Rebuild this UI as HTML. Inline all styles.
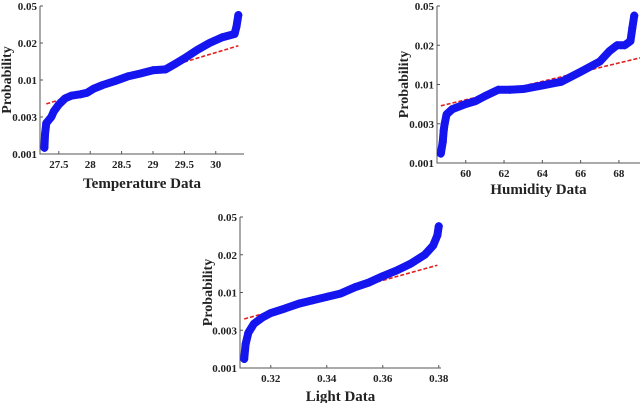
<!DOCTYPE html>
<html><head><meta charset="utf-8"><style>
html,body{margin:0;padding:0;background:#fff;}
svg{display:block;font-family:"Liberation Serif",serif;font-weight:bold;}
</style></head><body>
<svg id="fig" width="640" height="403"></svg>
<script>
const yTicks=[0.001,0.003,0.01,0.02,0.05];
const yTickLabels=["0.001","0.003","0.01","0.02","0.05"];
const tempX=[27.27,27.28,27.3,27.38,27.42,27.5,27.6,27.7,27.85,27.95,28.05,28.2,28.4,28.6,28.8,29.0,29.2,29.35,29.5,29.7,29.9,30.1,30.3,30.33,30.36];
const tempP=[0.0012,0.0018,0.0025,0.003,0.0036,0.0045,0.0055,0.006,0.0063,0.0066,0.0075,0.0085,0.0097,0.0107,0.0113,0.012,0.0122,0.0135,0.015,0.0175,0.02,0.023,0.025,0.03,0.04];
const tempFitX=[27.3,30.36];const tempFitP=[0.0046,0.019];
const tempTicks=[27.5,28,28.5,29,29.5,30];
const humX=[58.7,58.8,58.85,58.9,59.0,59.3,60,60.5,61,61.7,62.3,63,64,65,66,67,67.5,67.9,68.3,68.6,68.7,68.8];
const humP=[0.0013,0.0018,0.0025,0.003,0.004,0.0047,0.0055,0.006,0.007,0.0085,0.0085,0.0087,0.0097,0.0105,0.0125,0.015,0.018,0.02,0.02,0.022,0.03,0.04];
const humFitX=[58.7,69.1];const humFitP=[0.0052,0.016];
const humTicks=[60,62,64,66,68];
const lightX=[0.3105,0.311,0.312,0.314,0.317,0.32,0.325,0.33,0.335,0.34,0.345,0.35,0.355,0.36,0.365,0.37,0.375,0.378,0.3795,0.38];
const lightP=[0.0013,0.002,0.0028,0.0037,0.0045,0.0052,0.006,0.007,0.0078,0.0087,0.0097,0.011,0.012,0.0135,0.015,0.017,0.02,0.025,0.032,0.04];
const lightFitX=[0.3105,0.3795];const lightFitP=[0.0043,0.0165];
const lightTicks=[0.32,0.34,0.36,0.38];

const NS="http://www.w3.org/2000/svg";
const fig=document.getElementById('fig');
function mk(tag,attrs,parent){const e=document.createElementNS(NS,tag);for(const k in attrs)e.setAttribute(k,attrs[k]);parent.appendChild(e);return e;}

function plot(cfg){
  const g=mk('g',{},fig);
  
  
  const {L,R,T,B,x0,x1}=cfg;
  const sx=v=>L+(v-x0)/(x1-x0)*(R-L);
  const sy=p=>{let i=0;while(i<yTicks.length-2&&p>yTicks[i+1])i++;
    const f=Math.log(p/yTicks[i])/Math.log(yTicks[i+1]/yTicks[i]);
    return B-(i+f)*(B-T)/(yTicks.length-1);};
  const ax=mk('path',{d:`M${L},${T} L${L},${B} L${R},${B}`,stroke:'#555',fill:'none','stroke-width':1},g);
  
  yTicks.forEach((t,i)=>{const y=sy(t);
    mk('line',{x1:L,x2:L+3,y1:y,y2:y,stroke:'#555'},g);
    const tx=mk('text',{x:L-3,y:y+4,'text-anchor':'end','font-size':11,fill:'#222'},g);tx.textContent=yTickLabels[i];
    });
  cfg.ticks.forEach(t=>{const x=sx(t);
    mk('line',{x1:x,x2:x,y1:B,y2:B-3,stroke:'#555'},g);
    const tx=mk('text',{x:x,y:B+14,'text-anchor':'middle','font-size':11,fill:'#222'},g);tx.textContent=String(t);
    });
  const fl=mk('line',{x1:sx(cfg.fx[0]),y1:sy(cfg.fp[0]),x2:sx(cfg.fx[1]),y2:sy(cfg.fp[1]),stroke:'#e02020','stroke-width':1.6,'stroke-dasharray':'4,2'},g);
  
  const d=cfg.xs.map((v,i)=>(i?'L':'M')+sx(v)+','+sy(cfg.ps[i])).join(' ');
  const pl=mk('path',{d:d,stroke:'#1515f0','stroke-width':8,fill:'none','stroke-linejoin':'round','stroke-linecap':'round'},g);
  
  cfg.xs.forEach((v,i)=>{const x=sx(v),y=sy(cfg.ps[i]);
    const m=mk('path',{d:`M${x-4},${y} H${x+4} M${x},${y-4} V${y+4}`,stroke:'#1515f0','stroke-width':1.6},g);
    });
  const xl=mk('text',{x:(L+R)/2,y:cfg.xly,'text-anchor':'middle','font-size':15,fill:'#222'},g);xl.textContent=cfg.xlabel;
  
  const yl=mk('text',{x:0,y:0,'text-anchor':'middle','font-size':14,fill:'#222',transform:`translate(${cfg.ylx},${(T+B)/2}) rotate(-90)`},g);yl.textContent='Probability';
  
}
plot({name:'temperature-plot',L:40,R:244,T:6,B:154,x0:27.2,x1:30.45,ticks:tempTicks,xs:tempX,ps:tempP,fx:tempFitX,fp:tempFitP,xlabel:'Temperature Data',xly:188,ylx:11});
plot({name:'humidity-plot',L:437,R:640,T:6,B:163,x0:58.5,x1:69.1,ticks:humTicks,xs:humX,ps:humP,fx:humFitX,fp:humFitP,xlabel:'Humidity Data',xly:194,ylx:408});
plot({name:'light-plot',L:240,R:441,T:217,B:368,x0:0.309,x1:0.3808,ticks:lightTicks,xs:lightX,ps:lightP,fx:lightFitX,fp:lightFitP,xlabel:'Light Data',xly:401,ylx:212});
</script>
</body></html>
